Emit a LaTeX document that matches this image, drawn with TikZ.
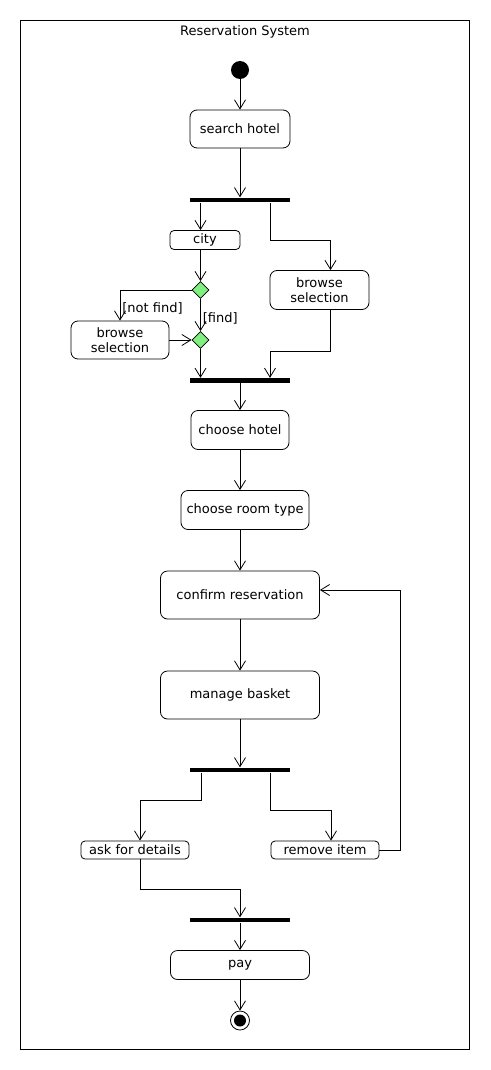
\documentclass[tikz,border=0pt]{standalone}
\usepackage{fontspec}
\setmainfont{DejaVu Sans}
\usetikzlibrary{arrows.meta,shapes.geometric}
\definecolor{decisiongreen}{RGB}{128,240,128}

\begin{document}
\begin{tikzpicture}[x=1pt,y=-1pt,
   every node/.style={font=\fontsize{13}{14.5}\selectfont},
   action/.style={draw, rounded corners=7pt, align=center, inner sep=0pt},
   smallaction/.style={draw, rounded corners=4pt, inner sep=0pt},
   bar/.style={fill=black, minimum width=100pt, minimum height=4.5pt, inner sep=0pt},
   decision/.style={diamond, draw, fill=decisiongreen, minimum size=17pt, inner sep=0pt},
   flow/.style={-{Straight Barb[length=9pt,width=11pt]}},
   line width=0.8pt]

\useasboundingbox (0,0) rectangle (490,1070);
\draw (20.5,20.5) rectangle (469.5,1049.5);
\node (title) at (245,32) {Reservation System};

% nodes
\node[circle, fill=black, minimum size=18pt, inner sep=0pt] (start) at (240,70) {};
\node[action, minimum width=100pt, minimum height=38pt] (search) at (240,129) {search hotel};
\node[bar] (bar1) at (240,200) {};
\node[smallaction, minimum width=70pt, minimum height=19pt] (city) at (205,240) {city};
\node[action, minimum width=99pt, minimum height=39pt] (browseR) at (319.5,290) {browse\\selection};
\node[decision] (dec1) at (200.5,290) {};
\node[decision] (dec2) at (200.5,340) {};
\node[action, minimum width=98pt, minimum height=38pt] (browseL) at (120,340) {browse\\selection};
\node[bar] (bar2) at (240,380.5) {};
\node[action, minimum width=98pt, minimum height=39pt] (choosehotel) at (240,430) {choose hotel};
\node[action, minimum width=128pt, minimum height=39pt] (roomtype) at (245,510) {choose room type};
\node[action, minimum width=159pt, minimum height=48pt] (confirm) at (240,595) {confirm reservation};
\node[action, minimum width=159pt, minimum height=48pt] (basket) at (240,695) {manage basket};
\node[bar] (bar3) at (240,770) {};
\node[smallaction, minimum width=108pt, minimum height=18pt] (details) at (135,850) {ask for details};
\node[smallaction, minimum width=108pt, minimum height=18pt] (remove) at (325,850) {remove item};
\node[bar] (bar4) at (240,920) {};
\node[action, minimum width=139pt, minimum height=29pt] (pay) at (240,965) {pay};
\node[circle, draw, minimum size=19pt, inner sep=0pt] (end) at (240,1020.5) {};
\fill (end.center) circle (6pt);

% flows
\draw[flow] (start) -- (search);
\draw[flow] (search) -- (bar1);
\draw[flow] (bar1.south -| dec1) -- (city.north -| dec1);
\draw[flow] ([xshift=30pt]bar1.south) -- ++(0,38) -| ([xshift=11pt]browseR.north);
\draw[flow] (city.south -| dec1) -- (dec1);
\draw[flow] (dec1.west) -| (browseL.north)
   node[pos=0.8, right, inner sep=2pt] {[not find]};
\draw[flow] (dec1) -- (dec2) node[pos=0.6, right, inner sep=2pt] {[find]};
\draw[flow] (browseL) -- (dec2);
\draw[flow] (dec2) -- (bar2.north -| dec2);
\draw[flow] ([xshift=11pt]browseR.south) -- ++(0,41) -| ([xshift=30pt]bar2.north);
\draw[flow] (bar2) -- (choosehotel);
\draw[flow] (choosehotel) -- (choosehotel |- roomtype.north);
\draw[flow] (choosehotel |- roomtype.south) -- (confirm);
\draw[flow] (confirm) -- (basket);
\draw[flow] (basket) -- (bar3);
\draw[flow] ([xshift=-39pt]bar3.south) -- ++(0,28) -| ([xshift=5pt]details.north);
\draw[flow] ([xshift=30pt]bar3.south) -- ++(0,38) -| ([xshift=6pt]remove.north);
\draw[flow] (remove.east) -- ++(21,0) |- ([yshift=5pt]confirm.east);
\draw[flow] ([xshift=5pt]details.south) -- ++(0,30) -| (bar4.north);
\draw[flow] (bar4) -- (pay);
\draw[flow] (pay) -- (end);

\end{tikzpicture}
\end{document}
